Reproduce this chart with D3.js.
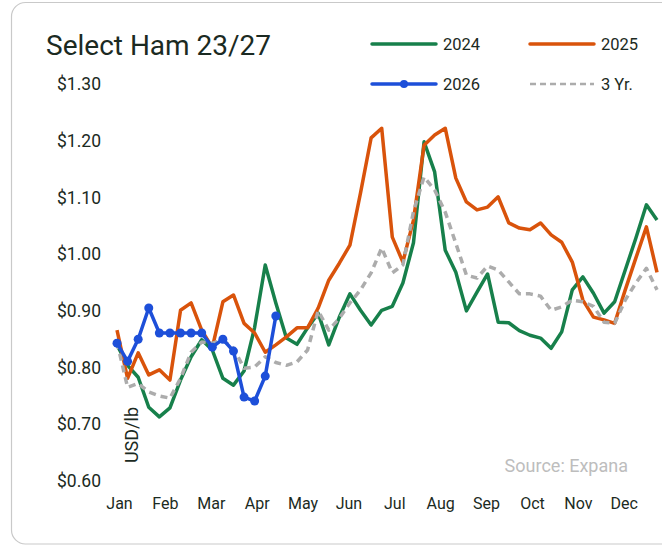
<!DOCTYPE html>
<html>
<head>
<meta charset="utf-8">
<script src="https://cdn.jsdelivr.net/npm/d3@7"></script>
<style>
  body { margin: 0; background: #fff; }
  svg text { font-family: Roboto, "Open Sans", sans-serif; fill: #1b2a22; }
</style>
</head>
<body>
<div id="chart"></div>
<script>
// weekly prices, USD/lb
const months = ['Jan', 'Feb', 'Mar', 'Apr', 'May', 'Jun', 'Jul', 'Aug', 'Sep', 'Oct', 'Nov', 'Dec'];
const yTicks = [0.6, 0.7, 0.8, 0.9, 1.0, 1.1, 1.2, 1.3];

const y2024 = [0.840, 0.804, 0.783, 0.730, 0.713, 0.729, 0.778, 0.819, 0.849, 0.831,
  0.781, 0.769, 0.794, 0.871, 0.981, 0.914, 0.852, 0.841, 0.870, 0.896,
  0.840, 0.889, 0.930, 0.901, 0.875, 0.901, 0.908, 0.949, 1.020, 1.198,
  1.145, 1.007, 0.968, 0.900, 0.933, 0.965, 0.880, 0.879, 0.865, 0.857,
  0.852, 0.834, 0.863, 0.937, 0.960, 0.931, 0.896, 0.916, 0.972, 1.028,
  1.087, 1.060];
const y2025 = [0.866, 0.781, 0.826, 0.787, 0.796, 0.778, 0.901, 0.914, 0.866, 0.835,
  0.916, 0.928, 0.878, 0.861, 0.827, 0.840, 0.854, 0.870, 0.870, 0.905,
  0.954, 0.984, 1.016, 1.108, 1.205, 1.222, 1.030, 0.986, 1.060, 1.192,
  1.210, 1.222, 1.134, 1.092, 1.078, 1.083, 1.101, 1.055, 1.046, 1.043,
  1.055, 1.034, 1.021, 0.986, 0.919, 0.889, 0.884, 0.878, 0.937, 0.993,
  1.048, 0.968];
const y2026 = [0.843, 0.811, 0.850, 0.905, 0.861, 0.861, 0.861, 0.861, 0.861, 0.836,
  0.850, 0.829, 0.748, 0.741, 0.785, 0.891];
const y3yr = [0.845, 0.765, 0.772, 0.757, 0.750, 0.746, 0.781, 0.827, 0.845, 0.843,
  0.848, 0.834, 0.799, 0.801, 0.819, 0.809, 0.804, 0.810, 0.831, 0.900,
  0.866, 0.887, 0.914, 0.937, 0.967, 1.011, 0.967, 0.981, 1.075, 1.136,
  1.113, 1.074, 1.019, 0.963, 0.958, 0.979, 0.972, 0.951, 0.930, 0.930,
  0.926, 0.901, 0.907, 0.919, 0.916, 0.908, 0.880, 0.878, 0.919, 0.949,
  0.975, 0.937];

const colors = { g: '#17804b', o: '#d9530b', b: '#1d4fd9', gray: '#acacac' };

const width = 662, height = 547;
const svg = d3.select('#chart').append('svg')
  .attr('width', width)
  .attr('height', height);

// card outline
svg.append('rect')
  .attr('x', 11.5).attr('y', 2.5)
  .attr('width', 700).attr('height', 541.5)
  .attr('rx', 14)
  .attr('fill', 'none')
  .attr('stroke', '#c9c9c9')
  .attr('stroke-width', 1.2);

const x = d3.scaleLinear().domain([0, 51]).range([117, 657]);
const y = d3.scaleLinear().domain([0.6, 1.3]).range([481, 84]);

// title
svg.append('text')
  .attr('x', 46).attr('y', 55)
  .style('font-size', '28px')
  .text('Select Ham 23/27');

// y axis
const yAxis = svg.append('g')
  .attr('transform', 'translate(109,0)')
  .call(d3.axisLeft(y).tickValues(yTicks).tickFormat(d3.format('$.2f')).tickSize(0).tickPadding(8));
yAxis.select('.domain').remove();
yAxis.selectAll('text').style('font-size', '17.5px').style('font-family', 'Roboto, sans-serif').attr('fill', '#1b2a22');

// x axis (month labels)
const xAxis = svg.append('g')
  .attr('transform', 'translate(2,494)')
  .call(d3.axisBottom(x).tickValues(months.map((m, i) => i * 52 / 12)).tickFormat((d, i) => months[i]).tickSize(0).tickPadding(4));
xAxis.select('.domain').remove();
xAxis.selectAll('text').style('font-size', '16px').style('font-family', 'Roboto, sans-serif').attr('fill', '#1b2a22');

// unit label
svg.append('text')
  .attr('transform', 'translate(138,435) rotate(-90)')
  .attr('text-anchor', 'middle')
  .style('font-size', '18px')
  .text('USD/lb');

// source
svg.append('text')
  .attr('x', 628).attr('y', 472)
  .attr('text-anchor', 'end')
  .style('font-size', '18px')
  .style('fill', '#bdbdbd')
  .text('Source: Expana');

const line = d3.line().x((d, i) => x(i)).y(d => y(d));

const drawLine = (data, color, dash) => svg.append('path')
  .datum(data)
  .attr('d', line)
  .attr('fill', 'none')
  .attr('stroke', color)
  .attr('stroke-width', 3.5)
  .attr('stroke-linejoin', 'round')
  .attr('stroke-dasharray', dash || null);

drawLine(y2024, colors.g);
drawLine(y2025, colors.o);
drawLine(y3yr, colors.gray, '7,5');
drawLine(y2026, colors.b);

svg.selectAll('.dot26')
  .data(y2026)
  .enter().append('circle')
  .attr('class', 'dot26')
  .attr('cx', (d, i) => x(i))
  .attr('cy', d => y(d))
  .attr('r', 4.5)
  .attr('fill', colors.b);

// legend
const legendItems = [
  { label: '2024', color: colors.g, lx: 372, ly: 44 },
  { label: '2025', color: colors.o, lx: 530, ly: 44 },
  { label: '2026', color: colors.b, lx: 372, ly: 84, dot: true },
  { label: '3 Yr.', color: colors.gray, lx: 530, ly: 84, dash: '6,4' }
];
const legend = svg.append('g');
legendItems.forEach(d => {
  legend.append('line')
    .attr('x1', d.lx).attr('x2', d.lx + 64)
    .attr('y1', d.ly).attr('y2', d.ly)
    .attr('stroke', d.color)
    .attr('stroke-width', d.dash ? 2.5 : 3.5)
    .attr('stroke-linecap', d.dash ? 'butt' : 'round')
    .attr('stroke-dasharray', d.dash || null);
  if (d.dot) {
    legend.append('circle').attr('cx', d.lx + 32).attr('cy', d.ly).attr('r', 4).attr('fill', d.color);
  }
  legend.append('text')
    .attr('x', d.lx + 71).attr('y', d.ly + 6)
    .style('font-size', '16.5px')
    .text(d.label);
});
</script>
</body>
</html>
